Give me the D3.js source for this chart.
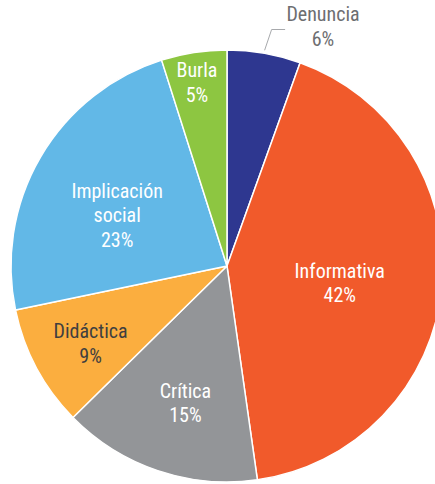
<!DOCTYPE html>
<html><head><meta charset="utf-8">
<script src="https://cdn.jsdelivr.net/npm/d3@7"></script>
<style>
html,body{margin:0;padding:0;background:#fff;}
svg{display:block;}
text{font-family:"Liberation Sans Narrow","Roboto Condensed","Arial Narrow",Roboto,sans-serif;font-size:20px;}
</style></head>
<body>
<svg id="chart" width="435" height="484"></svg>
<script>
// Data
const categories = ["Denuncia", "Informativa", "Crítica", "Didáctica", "Implicación social", "Burla"];
const values = [5.5, 42.3, 14.9, 9.1, 23.4, 4.9];
const colors = ["#2e3790", "#f15a2b", "#939598", "#fbae3f", "#62b8e7", "#8dc641"];
const textColors = ["#6d6e71", "#ffffff", "#ffffff", "#3f3f3f", "#ffffff", "#ffffff"];

// Layout
const cx = 227, cy = 266, R = 216;
const labelRadius = [null, 114, 143, 157, 121, 186];
const labelShiftDeg = [0, 2.6, -1.8, -1.5, -5.5, -0.5];
const lineH = 24.5;

const svg = d3.select("#chart");
const g = svg.append("g").attr("transform", `translate(${cx},${cy})`);

const data = categories.map((c, i) => ({cat: c, value: values[i], i}));
const pie = d3.pie().value(d => d.value).sort(null);
const arcs = pie(data);
const arc = d3.arc().innerRadius(0).outerRadius(R);

g.selectAll("path.slice").data(arcs).join("path")
  .attr("class", "slice")
  .attr("d", arc)
  .attr("fill", d => colors[d.data.i])
  .attr("stroke", "#fff")
  .attr("stroke-width", 1.5)
  .attr("stroke-linejoin", "round");

function labelLines(d) {
  const words = d.data.cat === "Implicación social" ? ["Implicación", "social"] : [d.data.cat];
  return words.concat([Math.round(d.data.value) + "%"]);
}

arcs.forEach(d => {
  const i = d.data.i;
  const mid = (d.startAngle + d.endAngle) / 2;
  const lines = labelLines(d);
  const t = g.append("text")
    .attr("text-anchor", "middle")
    .attr("fill", textColors[i]);
  if (labelRadius[i] == null) {
    // outside label with leader line
    const p0 = [Math.sin(mid) * (R + 3), -Math.cos(mid) * (R + 3)];
    const p1 = [p0[0] + 7, -cy + 29.5];
    const p2 = [p1[0] + 13.5, p1[1]];
    g.append("polyline")
      .attr("points", [p0, p1, p2].map(p => p.join(",")).join(" "))
      .attr("fill", "none").attr("stroke", "#a7a9ac").attr("stroke-width", 1);
    const x = 323 - cx, y0 = 21 - cy;
    lines.forEach((l, k) => {
      t.append("tspan").attr("x", x).attr("y", y0 + k * lineH).text(l);
    });
  } else {
    const a = mid + labelShiftDeg[i] * Math.PI / 180;
    const r = labelRadius[i];
    const x = Math.sin(a) * r, y = -Math.cos(a) * r;
    const y0 = y - (lines.length - 1) * lineH / 2;
    lines.forEach((l, k) => {
      t.append("tspan").attr("x", x).attr("y", y0 + k * lineH).attr("dy", "0.35em").text(l);
    });
  }
});
</script>
</body></html>
